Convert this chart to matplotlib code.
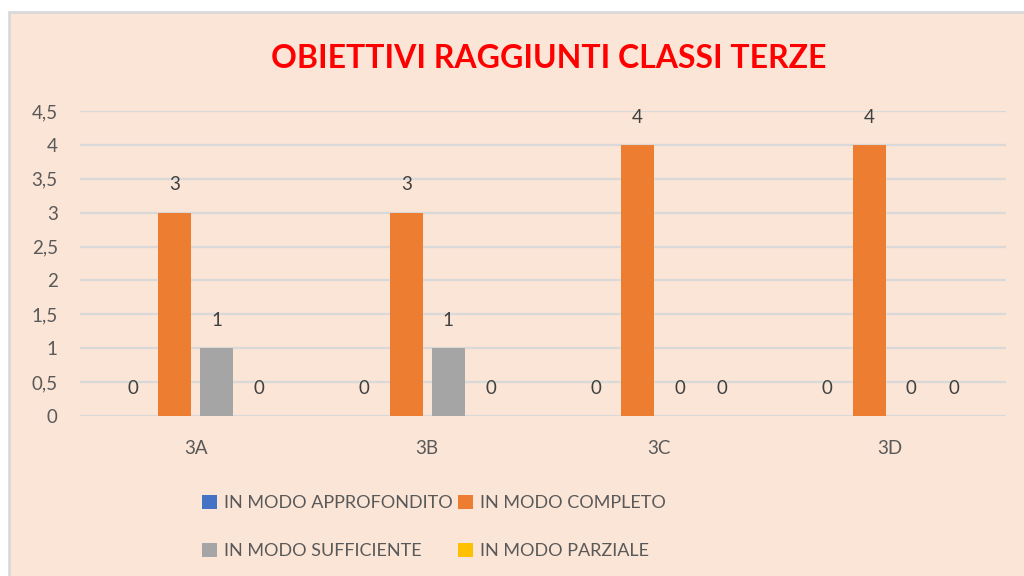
import matplotlib.pyplot as plt
from matplotlib.patches import Rectangle
import numpy as np

# dati
classi = ["3A", "3B", "3C", "3D"]
approfondito = [0, 0, 0, 0]
completo = [3, 3, 4, 4]
sufficiente = [1, 1, 0, 0]
parziale = [0, 0, 0, 0]

serie = [
    ("IN MODO APPROFONDITO", approfondito, "#4472C4"),
    ("IN MODO COMPLETO", completo, "#ED7D31"),
    ("IN MODO SUFFICIENTE", sufficiente, "#A5A5A5"),
    ("IN MODO PARZIALE", parziale, "#FFC000"),
]
yticks = [0, 0.5, 1, 1.5, 2, 2.5, 3, 3.5, 4, 4.5]

plt.rcParams["font.family"] = ["Lato", "DejaVu Sans"]

fig = plt.figure(figsize=(10.24, 5.76), dpi=100)
fig.patch.set_facecolor("white")
bg = "#FBE5D6"
fig.patches.append(Rectangle((9 / 1024, -0.01), 1.1, 1 - 12 / 576 + 0.01,
                             transform=fig.transFigure, facecolor=bg,
                             edgecolor="#D9D9D9", linewidth=2, zorder=-10))

ax = fig.add_axes([80 / 1024, 1 - 416 / 576, 926 / 1024, 305 / 576])
ax.set_facecolor("none")

x = np.arange(len(classi))
width = 0.143
step = 0.182
handles = []
for i, (nome, vals, col) in enumerate(serie):
    pos = x + (i - 1.5) * step
    b = ax.bar(pos, vals, width, color=col, label=nome, zorder=3)
    handles.append(b)
    for px, v in zip(pos, vals):
        ax.annotate(f"{v}", (px, v), xytext=(0, 20), textcoords="offset points",
                    ha="center", va="center", fontsize=13.5, color="#404040")

ax.set_xlim(-0.5, 3.5)
ax.set_ylim(0, 4.5)
ax.set_yticks(yticks)
ax.set_yticklabels([f"{t:g}".replace(".", ",") for t in yticks])
ax.set_xticks(x)
ax.set_xticklabels(classi)
ax.tick_params(axis="both", length=0, labelsize=13.5, labelcolor="#595959")
ax.tick_params(axis="x", pad=17)
ax.tick_params(axis="y", pad=16)
ax.grid(axis="y", color="#D9D9D9", linewidth=1.6, zorder=0)
ax.set_axisbelow(True)
for s in ax.spines.values():
    s.set_visible(False)

fig.text(549 / 1024, 1 - 59 / 576, "OBIETTIVI RAGGIUNTI CLASSI TERZE",
         ha="center", va="center", fontsize=23, fontweight="bold", color="#FF0000")

order = [0, 2, 1, 3]
leg = fig.legend([handles[i] for i in order], [serie[i][0] for i in order],
                 ncol=2, loc="center", bbox_to_anchor=(434 / 1024, 1 - 527 / 576),
                 frameon=False, fontsize=13, handlelength=0.85, handleheight=0.85,
                 handletextpad=0.4, columnspacing=0.25, labelspacing=1.75)
for t in leg.get_texts():
    t.set_color("#595959")

fig.savefig("out.png", dpi=100, facecolor=fig.get_facecolor())
